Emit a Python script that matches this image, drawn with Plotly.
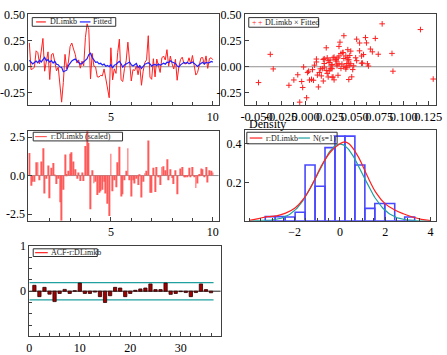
import numpy as np
import plotly.graph_objects as go

W, H = 447, 355

# ---------------- data ----------------
start_year = 1
periods = 109
t = [start_year + k / 12 for k in range(periods)]

dlimkb = [0.229, -0.027, -0.019, -0.005, 0.153, 0.136, 0.028, 0.150, 0.272, -0.043,
          0.034, 0.143, -0.123, 0.117, 0.128, 0.058, -0.039, -0.004, -0.199, -0.340,
          -0.152, 0.119, -0.021, 0.046, 0.195, 0.228, 0.170, 0.120, 0.035, 0.066,
          -0.014, 0.054, 0.009, 0.280, 0.412, 0.357, -0.118, 0.128, 0.007, -0.004,
          -0.097, -0.099, -0.082, -0.088, -0.021, -0.128, -0.194, -0.298, 0.182, -0.127,
          -0.020, -0.064, 0.136, 0.265, -0.126, -0.142, -0.018, 0.058, 0.236, 0.010,
          -0.137, -0.028, -0.037, 0.009, -0.077, 0.015, -0.178, -0.043, 0.041, 0.066,
          0.298, -0.100, -0.121, 0.077, -0.098, 0.074, 0.015, -0.055, 0.085, 0.103,
          0.065, 0.164, 0.005, 0.103, 0.029, -0.022, 0.071, -0.130, -0.002, 0.070,
          0.092, 0.031, 0.028, 0.033, 0.086, 0.026, 0.108, 0.026, -0.080, -0.056,
          0.031, 0.085, 0.089, 0.021, 0.104, -0.016, 0.079, 0.086, 0.067]

fitted = [0.062, 0.048, 0.027, 0.041, 0.055, 0.038, 0.063, 0.046, 0.071, 0.089,
          0.057, 0.068, 0.044, 0.059, 0.036, 0.052, 0.024, 0.019, -0.003, -0.006,
          -0.048, -0.036, -0.033, 0.011, 0.034, 0.055, 0.066, 0.074, 0.058, 0.043,
          0.026, 0.031, 0.049, 0.061, 0.078, 0.117, 0.130, 0.088, 0.064, 0.042,
          0.047, 0.028, 0.033, 0.016, 0.025, 0.004, 0.013, 0.001, 0.021, -0.012,
          0.015, 0.022, 0.038, 0.052, 0.029, -0.004, 0.017, 0.023, 0.035, 0.045,
          0.018, 0.007, 0.021, 0.032, -0.008, 0.009, -0.017, 0.003, 0.024, 0.031,
          0.039, 0.027, 0.006, 0.019, 0.023, 0.011, 0.026, 0.014, 0.022, 0.034,
          0.025, 0.043, 0.039, 0.057, 0.046, 0.041, 0.031, 0.008, -0.002, 0.018,
          0.029, 0.042, 0.034, 0.044, 0.028, 0.037, 0.045, 0.032, 0.012, 0.002,
          0.019, 0.033, 0.043, 0.027, 0.041, 0.036, 0.039, 0.051, 0.044]

acf_lags = list(range(1, 37))
acf_vals = [0.13, -0.12, 0.085, -0.065, -0.23, -0.05, 0.04, -0.05, 0.01, 0.18,
            -0.05, -0.05, -0.02, -0.12, -0.25, -0.10, 0.085, 0.07, -0.12, -0.05,
            0.02, 0.05, 0.07, 0.16, 0.035, 0.035, 0.18, -0.07, -0.05, -0.01,
            -0.03, -0.12, -0.03, 0.16, 0.035, -0.035]

hist_centers = [-3.08, -2.64, -2.20, -1.76, -1.32, -0.88, -0.44, 0.0,
                0.44, 0.88, 1.32, 1.76, 2.20, 2.64, 3.08]
hist_density = [0.022, 0.022, 0.020, 0.045, 0.29, 0.18, 0.38, 0.44,
                0.44, 0.29, 0.065, 0.09, 0.09, 0.0, 0.02]
bin_width = 0.44

kde_x = [-4.0, -3.6, -3.2, -2.8, -2.4, -2.0, -1.6, -1.2, -0.8, -0.4, 0.0, 0.2,
         0.4, 0.8, 1.2, 1.6, 2.0, 2.4, 2.8, 3.2, 3.6, 4.0]
kde_y = [0.003, 0.012, 0.022, 0.026, 0.04, 0.065, 0.115, 0.195, 0.29, 0.36, 0.40, 0.41,
         0.40, 0.335, 0.235, 0.145, 0.088, 0.058, 0.037, 0.02, 0.008, 0.002]

# ---------------- derived (as the software does) ----------------
y_arr = np.array(dlimkb)
f_arr = np.array(fitted)
resid = y_arr - f_arr
scaled = resid / np.sqrt(np.mean(resid ** 2))
acf_band = 2 / np.sqrt(len(dlimkb))
nx = np.linspace(-4.0, 4.0, 161)
normal_pdf = np.exp(-0.5 * nx ** 2) / np.sqrt(2 * np.pi)

# ---------------- helpers ----------------
FONT = "Liberation Serif"


def xd(a, b):
    return [a / W, b / W]


def yd(top, bottom):
    return [1 - bottom / H, 1 - top / H]


def px(p):
    return p / W


def py(p):
    return 1 - p / H


common = dict(showline=True, mirror=True, linecolor="#404040", linewidth=1,
              ticks="inside", ticklen=4, tickcolor="#404040", showgrid=False,
              zeroline=False, tickfont=dict(family=FONT, size=12, color="black"),
              tickangle=0, ticklabeloverflow="allow")

fig = go.Figure()

# Panel A
fig.add_trace(go.Scatter(x=t, y=dlimkb, mode="lines", line=dict(color="#ff2020", width=1),
                         xaxis="x", yaxis="y"))
fig.add_trace(go.Scatter(x=t, y=fitted, mode="lines", line=dict(color="#2020ff", width=1.2),
                         xaxis="x", yaxis="y"))
# Panel B
fig.add_trace(go.Scatter(x=fitted, y=dlimkb, mode="markers",
                         marker=dict(symbol="cross-thin", size=4,
                                     line=dict(color="#ff2020", width=1)),
                         xaxis="x2", yaxis="y2"))
# Panel C
fig.add_trace(go.Bar(x=t, y=scaled, width=0.045,
                     marker=dict(color="#ff5a5a", line=dict(width=0)),
                     xaxis="x3", yaxis="y3"))
# Panel D
fig.add_trace(go.Bar(x=hist_centers, y=hist_density, width=bin_width,
                     marker=dict(color="rgba(0,0,0,0)", line=dict(color="#4848ff", width=1.6)),
                     xaxis="x4", yaxis="y4"))
fig.add_trace(go.Scatter(x=nx, y=normal_pdf, mode="lines", line=dict(color="#20a0a0", width=1.2),
                         xaxis="x4", yaxis="y4"))
fig.add_trace(go.Scatter(x=kde_x, y=kde_y, mode="lines", line=dict(color="#ff2020", width=1.2, shape="spline"),
                         xaxis="x4", yaxis="y4"))
# Panel E
fig.add_trace(go.Bar(x=acf_lags, y=acf_vals, width=0.65,
                     marker=dict(color="#a00000", line=dict(color="#300000", width=0.8)),
                     xaxis="x5", yaxis="y5"))

shapes = []
for xr, yr in [("x", "y"), ("x2", "y2"), ("x3", "y3")]:
    shapes.append(dict(type="line", xref=xr + " domain", yref=yr, x0=0, x1=1, y0=0, y1=0,
                       line=dict(color="#909090", width=1), layer="below"))
shapes.append(dict(type="line", xref="x5 domain", yref="y5", x0=0, x1=1, y0=0, y1=0,
                   line=dict(color="#202020", width=1), layer="below"))
for s in (1, -1):
    shapes.append(dict(type="line", xref="x5", yref="y5", x0=0, x1=acf_lags[-1] + 0.5,
                       y0=s * acf_band, y1=s * acf_band,
                       line=dict(color="#20a0a0", width=1.2), layer="below"))

annotations = []


def legend_box(x0, y0, x1, y1):
    shapes.append(dict(type="rect", xref="paper", yref="paper", x0=px(x0), x1=px(x1),
                       y0=py(y1), y1=py(y0), line=dict(color="#303030", width=1),
                       fillcolor="rgba(0,0,0,0)"))


def legend_line(x0, x1, y, color):
    shapes.append(dict(type="line", xref="paper", yref="paper", x0=px(x0), x1=px(x1),
                       y0=py(y), y1=py(y), line=dict(color=color, width=1.2)))


def legend_text(x, y, text, color="#202020", size=8):
    annotations.append(dict(xref="paper", yref="paper", x=px(x), y=py(y), text=text,
                            showarrow=False, xanchor="left", yanchor="middle",
                            font=dict(family=FONT, size=size, color=color), borderpad=0))


legend_box(26, 11, 112, 20)
legend_line(30, 40, 15.5, "#ff2020")
legend_text(43, 15.5, "DLimkb")
legend_line(75, 86, 15.5, "#2020ff")
legend_text(88, 15.5, "Fitted")

legend_box(249, 11, 321, 21)
legend_text(251, 16, "+", color="#ff2020", size=8)
legend_text(258, 16, "+", color="#ff2020", size=8)
legend_text(265, 16, "DLimkb × Fitted")

legend_box(27, 130, 119, 139)
legend_line(29, 41, 134.5, "#ff5a5a")
legend_text(44, 134.5, "r:DLimkb (scaled)")

legend_box(247, 130, 340, 142)
legend_line(250, 263, 136, "#ff2020")
legend_text(266, 136, "r:DLimkb")
legend_line(300, 312, 136, "#20a0a0")
legend_text(314, 136, "N(s=1)")

legend_box(27, 251, 93, 259)
legend_line(29, 42, 255, "#ff2020")
legend_text(44, 255, "ACF-r:DLimkb")

annotations.append(dict(xref="paper", yref="paper", x=px(247), y=py(121), text="Density",
                        showarrow=False, xanchor="left", yanchor="middle",
                        font=dict(family=FONT, size=12, color="black")))

scatter_ticks = [-0.05, -0.025, 0.0, 0.025, 0.05, 0.075, 0.1, 0.125]
scatter_text = ["-0.050", "-0.025", "0.000", "0.025", "0.050", "0.075", "0.100", "0.125"]

minor_style = dict(ticks="inside", ticklen=3, tickcolor="#404040")

fig.update_layout(
    width=W, height=H, margin=dict(l=0, r=0, t=0, b=0),
    paper_bgcolor="white", plot_bgcolor="white", showlegend=False,
    shapes=shapes, annotations=annotations,
    xaxis=dict(common, domain=xd(22, 218), range=[0.952, 10.286], anchor="y",
               tickvals=[5, 10], minor=dict(minor_style, dtick=1, tick0=0)),
    yaxis=dict(common, domain=yd(7, 102), range=[-0.37, 0.509], anchor="x",
               tickvals=[-0.25, 0, 0.25, 0.5], ticktext=["-0.25", "0.00", "0.25", "0.50"]),
    xaxis2=dict(common, domain=xd(245, 442), range=[-0.0619, 0.133], anchor="y2",
                tickvals=scatter_ticks, ticktext=scatter_text,
                tickfont=dict(family=FONT, size=12.5, color="black"),
                minor=dict(minor_style, dtick=0.0125, tick0=0)),
    yaxis2=dict(common, domain=yd(7, 102), range=[-0.37, 0.509], anchor="x2",
                tickvals=[-0.25, 0, 0.25, 0.5], ticktext=["-0.25", "0.00", "0.25", "0.50"]),
    xaxis3=dict(common, domain=xd(22, 218), range=[0.952, 10.286], anchor="y3",
                tickvals=[5, 10], minor=dict(minor_style, dtick=1, tick0=0)),
    yaxis3=dict(common, domain=yd(129, 222), range=[-2.94, 2.875], anchor="x3",
                tickvals=[-2.5, 0, 2.5], ticktext=["-2.5", "0.0", "2.5"]),
    xaxis4=dict(common, domain=xd(245, 442), range=[-4.2, 4.25], anchor="y4",
                tickvals=[-2, 0, 2, 4], minor=dict(minor_style, dtick=0.5, tick0=0)),
    yaxis4=dict(common, domain=yd(128, 222), range=[0, 0.47], anchor="x4",
                tickvals=[0.2, 0.4], ticktext=["0.2", "0.4"]),
    xaxis5=dict(common, domain=xd(23, 220), range=[0, 37.9], anchor="y5",
                tickvals=[0, 10, 20, 30], minor=dict(minor_style, dtick=2, tick0=0)),
    yaxis5=dict(common, domain=yd(248, 342), range=[-1, 1], anchor="x5",
                tickvals=[0, 1], ticktext=["0", "1"],
                minor=dict(minor_style, dtick=0.25, tick0=0)),
)

fig.write_html("out.html")
